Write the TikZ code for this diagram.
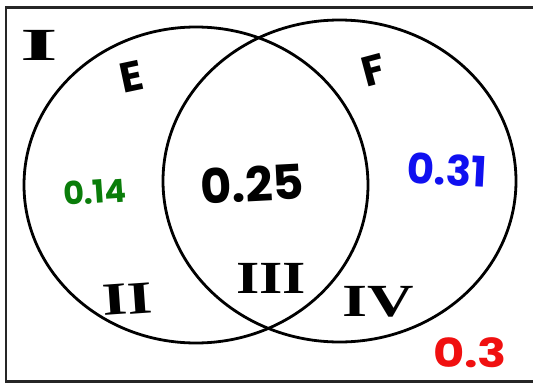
\documentclass[tikz,border=0pt]{standalone}
\usepackage{fontspec}
\setmainfont{Poppins}
\newfontfamily\romanfont{Liberation Serif}
\usepackage{xcolor}
\usetikzlibrary{positioning}
\definecolor{probgreen}{HTML}{0A7D0A}
\definecolor{probblue}{HTML}{1010F0}
\definecolor{probred}{HTML}{F01010}

\begin{document}
\begin{tikzpicture}[x=1pt,y=-1pt,
  frame/.style={line width=2.6pt,black!85},
  setline/.style={line width=2.8pt},
  prob/.style={font=\bfseries\fontsize{42}{44}\selectfont,inner sep=0pt},
  region/.style={font=\romanfont\bfseries\fontsize{46}{48}\selectfont,inner sep=0pt},
  setname/.style={font=\bfseries\fontsize{42}{44}\selectfont,inner sep=0pt}
]
\useasboundingbox (0,0) rectangle (533,383);
% sample space
\draw[frame] (540,7.5) -- (6,7.5) -- (6,381.5) -- (540,381.5);
% the two events
\draw[setline] (196,185) ellipse [x radius=172, y radius=158];
\draw[setline] (339.5,181) ellipse [x radius=176.5, y radius=161];
% labels
\node[region,xscale=2.1] (rI) at (39,45) {I};
\node[setname,rotate=12] (lE) at (132,77) {E};
\node[setname,rotate=15] (lF) at (374,70) {F};
\node[region,rotate=4,xscale=1.4] (rII) at (127,299) {II};
\node[region,xscale=1.3] (rIII) at (271,278) {III};
\node[region,xscale=1.4] (rIV) at (378,302) {IV};
% probabilities
\node[prob,probgreen,rotate=4,font=\bfseries\fontsize{32}{34}\selectfont] (p14) at (95,192) {0.14};
\node[prob,rotate=3,font=\bfseries\fontsize{48}{50}\selectfont] (p25) at (252,184) {0.25};
\node[prob,probblue,rotate=-3] (p31) at (447,170) {0.31};
\node[prob,probred,xscale=1.2,font=\bfseries\fontsize{40}{42}\selectfont] (p3) at (470,353) {0.3};
\end{tikzpicture}
\end{document}
